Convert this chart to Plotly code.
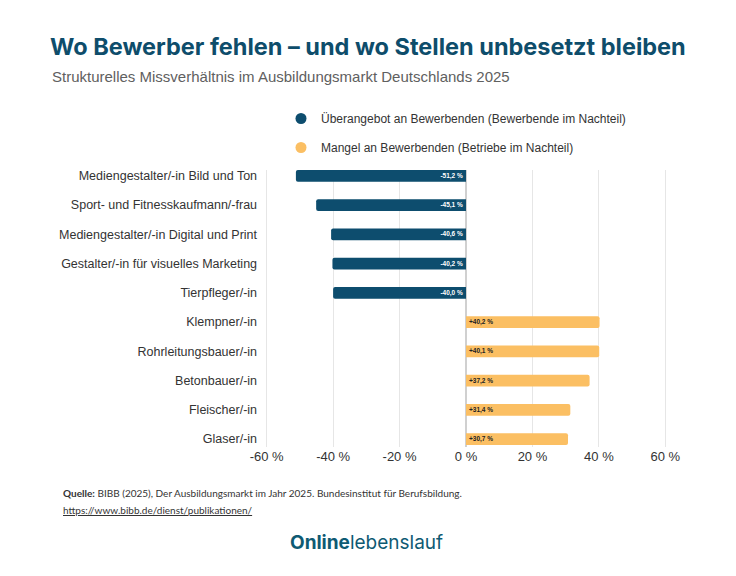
import plotly.graph_objects as go

# Daten
berufe = [
    "Mediengestalter/-in Bild und Ton",
    "Sport- und Fitnesskaufmann/-frau",
    "Mediengestalter/-in Digital und Print",
    "Gestalter/-in für visuelles Marketing",
    "Tierpfleger/-in",
    "Klempner/-in",
    "Rohrleitungsbauer/-in",
    "Betonbauer/-in",
    "Fleischer/-in",
    "Glaser/-in",
]
werte = [-51.2, -45.1, -40.6, -40.2, -40.0, 40.2, 40.1, 37.2, 31.4, 30.7]
x_ticks = [-60, -40, -20, 0, 20, 40, 60]
legende = [
    "Überangebot an Bewerbenden (Bewerbende im Nachteil)",
    "Mangel an Bewerbenden (Betriebe im Nachteil)",
]

BLAU = "#0d4d6e"
ORANGE = "#fbbf63"
W, H = 736, 576
OFF = 8  # Body-Rand der HTML-Seite
L, R, T, B = 257, 77, 162, 137


def fmt(v):
    s = f"{v:+.1f}".replace(".", ",")
    return s + " %"


def px_x(px):
    return (px - OFF - L) / (W - L - R)


def px_y(py):
    return (H - B - (py - OFF)) / (H - T - B)


neg = [(b, v) for b, v in zip(berufe, werte) if v < 0]
pos = [(b, v) for b, v in zip(berufe, werte) if v >= 0]

fig = go.Figure()

fig.add_trace(go.Bar(
    y=[b for b, _ in neg], x=[v for _, v in neg], orientation="h",
    marker=dict(color=BLAU, line=dict(width=0), cornerradius=2),
    text=[fmt(v) for _, v in neg], textposition="inside", insidetextanchor="start",
    constraintext="none",
    textfont=dict(color="white", size=6.5, family="Liberation Sans", weight="bold"),
    showlegend=False, width=0.4, hoverinfo="skip",
))
fig.add_trace(go.Bar(
    y=[b for b, _ in pos], x=[v for _, v in pos], orientation="h",
    marker=dict(color=ORANGE, line=dict(width=0), cornerradius=2),
    text=[fmt(v) for _, v in pos], textposition="inside", insidetextanchor="start",
    constraintext="none",
    textfont=dict(color="#222222", size=6.5, family="Liberation Sans", weight="bold"),
    showlegend=False, width=0.4, hoverinfo="skip",
))

# Legende mit runden Markern
for name, farbe, grp in [(legende[0], BLAU, "a"), (legende[1], ORANGE, "b")]:
    fig.add_trace(go.Scatter(
        x=[None], y=[None], mode="markers", name=name, legendgroup=grp,
        marker=dict(symbol="circle", size=11, color=farbe),
    ))

fig.update_layout(
    width=W, height=H,
    margin=dict(l=L, r=R, t=T, b=B),
    paper_bgcolor="white", plot_bgcolor="white",
    font=dict(family="Liberation Sans", color="#333333", size=13),
    title=dict(
        text="<b>Wo Bewerber fehlen – und wo Stellen unbesetzt bleiben</b>",
        x=(50 - OFF) / W, xanchor="left", y=1 - (47 - OFF) / H, yanchor="middle",
        yref="container",
        font=dict(family="Inter", size=23.5, color="#0e4d6b"),
    ),
    barmode="overlay",
    xaxis=dict(
        range=[-60.5, 60.5], tickvals=x_ticks,
        ticktext=[f"{t} %" for t in x_ticks],
        showgrid=True, gridcolor="#e6e6e6", gridwidth=1,
        zeroline=True, zerolinecolor="#d0d0d0", zerolinewidth=1.5,
        tickfont=dict(size=13, color="#333333"), fixedrange=True,
    ),
    yaxis=dict(
        categoryorder="array", categoryarray=berufe[::-1],
        range=[-0.27, 9.2], ticks="", ticksuffix="  ",
        tickfont=dict(size=12.5, color="#333333"), showgrid=False,
    ),
    legend=dict(
        x=px_x(281), y=px_y(104), xanchor="left", yanchor="top",
        orientation="v", tracegroupgap=10, itemwidth=30,
        font=dict(size=12, color="#333333"), bgcolor="rgba(0,0,0,0)",
    ),
    annotations=[
        dict(
            text="Strukturelles Missverhältnis im Ausbildungsmarkt Deutschlands 2025",
            xref="paper", yref="paper", x=px_x(50), y=px_y(76),
            xanchor="left", yanchor="middle", showarrow=False,
            font=dict(family="Liberation Sans", size=15, color="#606060"),
        ),
        dict(
            text="<b>Quelle:</b> BIBB (2025), Der Ausbildungsmarkt im Jahr 2025. Bundesinstitut für Berufsbildung.",
            xref="paper", yref="paper", x=px_x(61), y=px_y(493),
            xanchor="left", yanchor="middle", showarrow=False,
            font=dict(family="Lato", size=10, color="#333333"),
        ),
        dict(
            text="<u>https://www.bibb.de/dienst/publikationen/</u>",
            xref="paper", yref="paper", x=px_x(61), y=px_y(510),
            xanchor="left", yanchor="middle", showarrow=False,
            font=dict(family="Lato", size=10, color="#333333"),
        ),
        dict(
            text="<b>Online</b>lebenslauf",
            xref="paper", yref="paper", x=px_x(366), y=px_y(542),
            xanchor="center", yanchor="middle", showarrow=False,
            font=dict(family="Inter", size=19, color="#0e5a73"),
        ),
    ],
)

fig.write_html("out.html")
